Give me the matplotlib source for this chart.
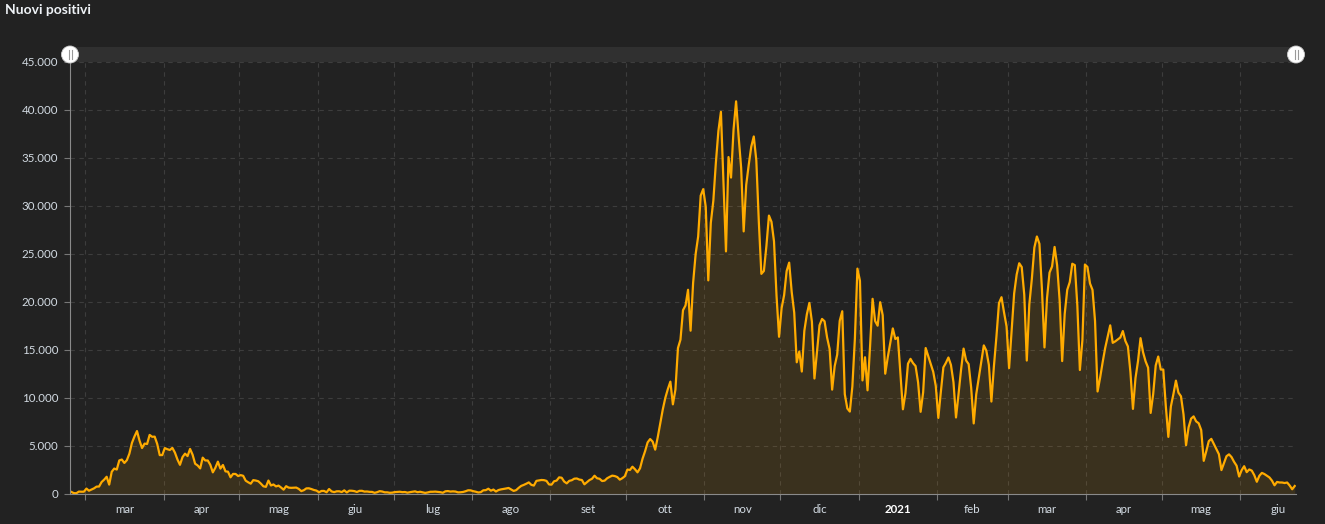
import matplotlib
matplotlib.use("Agg")
import matplotlib.pyplot as plt
import matplotlib.dates as mdates
from matplotlib.patches import Rectangle, Circle
import numpy as np
import pandas as pd

# Nuovi positivi giornalieri, dal 24 febbraio 2020 al 22 giugno 2021
start_date = "2020-02-24"
feb_2020 = [221, 93, 78, 250, 238, 240]
mar_2020 = [566, 342, 466, 587, 769, 778, 1247, 1492, 1797, 977, 2313, 2651, 2547, 3497, 3590, 3233,
            3526, 4207, 5322, 5986, 6557, 5560, 4789, 5249, 5210, 6153, 5959, 5974, 5217, 4050, 4053]
apr_2020 = [4782, 4668, 4585, 4805, 4316, 3599, 3039, 3836, 4204, 3951, 4694, 4092, 3153, 2972, 2667,
            3786, 3493, 3491, 3047, 2256, 2729, 3370, 2646, 3021, 2357, 2324, 1739, 2091, 2086, 1872]
mag_2020 = [1965, 1900, 1389, 1221, 1075, 1444, 1401, 1327, 1083, 802, 744, 1402, 888, 992, 789, 875,
            675, 451, 813, 665, 642, 652, 669, 531, 300, 397, 584, 593, 516, 416, 355]
giu_2020 = [178, 318, 321, 177, 518, 270, 197, 280, 283, 202, 379, 163, 346, 338, 301, 210, 329, 333,
            251, 262, 224, 218, 122, 190, 296, 259, 175, 174, 126, 142]
lug_2020 = [201, 223, 235, 192, 208, 138, 193, 229, 276, 188, 234, 169, 114, 162, 230, 233, 249, 219,
            190, 129, 282, 306, 252, 275, 255, 170, 181, 212, 289, 386, 379]
ago_2020 = [295, 239, 159, 190, 384, 402, 552, 347, 463, 259, 412, 481, 523, 574, 629, 479, 320, 403,
            642, 845, 947, 1071, 1210, 953, 878, 1367, 1411, 1460, 1444, 1365, 996]
set_2020 = [975, 1326, 1397, 1733, 1695, 1297, 1108, 1370, 1434, 1597, 1616, 1501, 1458, 1008, 1229,
            1452, 1585, 1907, 1638, 1587, 1350, 1392, 1640, 1786, 1912, 1869, 1766, 1494, 1648, 1851]
ott_2020 = [2548, 2499, 2844, 2578, 2257, 2677, 3678, 4458, 5372, 5724, 5456, 4619, 5901, 7332, 8804,
            10010, 10925, 11705, 9338, 10874, 15199, 16079, 19143, 19644, 21273, 17012, 21994, 24991,
            26831, 31084, 31758]
nov_2020 = [29907, 22253, 28244, 30550, 34505, 37809, 39811, 32616, 25271, 35098, 32961, 37978, 40902,
            37255, 33979, 27354, 32191, 34283, 36176, 37242, 34767, 28337, 22930, 23232, 25853, 29003,
            28352, 26323, 20648, 16377]
dic_2020 = [19350, 20709, 23225, 24099, 21052, 18887, 13720, 14842, 12756, 16999, 18727, 19903, 17938,
            12030, 14844, 17572, 18236, 17992, 16308, 15104, 10872, 13318, 14522, 18040, 19037, 10407,
            8913, 8585, 11212, 16202, 23477]
gen_2021 = [22211, 11831, 14245, 10800, 15378, 20331, 18020, 17533, 19978, 18627, 12532, 14242, 15774,
            17246, 16146, 16310, 12545, 8824, 10497, 13571, 14078, 13633, 13331, 11629, 8561, 10593,
            15204, 14372, 13574, 12715, 11252]
feb_2021 = [7925, 10630, 13189, 13659, 14218, 13442, 11641, 7970, 10404, 12956, 15146, 13908, 13532,
            11068, 7351, 10386, 12074, 13762, 15479, 14931, 13452, 9630, 13314, 16424, 19886, 20499,
            18916, 17455]
mar_2021 = [13114, 17083, 20884, 22865, 24036, 23641, 20765, 13902, 19749, 22409, 25673, 26824, 26062,
            21315, 15267, 20396, 23059, 23704, 25735, 23832, 20159, 13846, 18765, 21267, 22073, 23987,
            23839, 19611, 12916, 16017, 23904]
apr_2021 = [23649, 21932, 21261, 18025, 10680, 12100, 13708, 15200, 16400, 17567, 15746, 15900, 16100,
            16300, 16974, 15943, 15370, 12694, 8864, 12074, 13844, 16232, 14761, 13817, 13158, 8444,
            10404, 13385, 14320, 12965]
mag_2021 = [12965, 9148, 5948, 9116, 10404, 11807, 10554, 10176, 8292, 5080, 6946, 7852, 8085, 7567,
            7369, 6659, 3455, 4452, 5506, 5741, 5218, 4717, 4147, 2490, 3224, 3937, 4130, 3845, 3351,
            2949, 1820]
giu_2021 = [2483, 2897, 2275, 2557, 2436, 1963, 1273, 1896, 2199, 2079, 1901, 1723, 1390, 907, 1255,
            1199, 1197, 1143, 1197, 881, 495, 835]

month_labels = ["mar", "apr", "mag", "giu", "lug", "ago", "set", "ott", "nov", "dic",
                "2021", "feb", "mar", "apr", "mag", "giu"]
y_ticks = [0, 5000, 10000, 15000, 20000, 25000, 30000, 35000, 40000, 45000]

values = np.array(feb_2020 + mar_2020 + apr_2020 + mag_2020 + giu_2020 + lug_2020 + ago_2020
                  + set_2020 + ott_2020 + nov_2020 + dic_2020 + gen_2021 + feb_2021 + mar_2021
                  + apr_2021 + mag_2021 + giu_2021)
dates = pd.date_range(start_date, periods=len(values), freq="D") + pd.Timedelta(hours=12)
x = mdates.date2num(dates.to_pydatetime())

# colori
bg = "#222222"
line_col = "#ffab00"
text_col = "#d3dbe3"
grid_col = "#3d3d3d"

plt.rcParams["font.family"] = ["Lato", "DejaVu Sans"]

W, H = 1325, 524
fig = plt.figure(figsize=(W / 100, H / 100), dpi=100, facecolor=bg)
ax = fig.add_axes([70 / W, 30 / H, 1226 / W, 432 / H], facecolor=bg)

ax.fill_between(x, values, 0, color=line_col, alpha=0.11, linewidth=0)
ax.plot(x, values, color=line_col, linewidth=1.6, solid_joinstyle="round")

x0 = mdates.date2num(pd.Timestamp(start_date).to_pydatetime())
x1 = x0 + len(values)
ax.set_xlim(x0, x1)
ax.set_ylim(0, 45000)

# asse y
ax.set_yticks(y_ticks)
ax.set_yticklabels([f"{v:,}".replace(",", ".") for v in y_ticks])
ax.tick_params(axis="y", colors="#777777", labelcolor=text_col, labelsize=8.3, length=4.5, pad=4)

# asse x: inizio mesi (tick) e etichette a metà mese
month_starts = pd.date_range("2020-03-01", "2021-06-01", freq="MS")
ms_num = mdates.date2num(month_starts.to_pydatetime())
mid_num = ms_num + month_starts.days_in_month.values / 2.0
ax.set_xticks(ms_num)
ax.set_xticklabels([])
ax.set_xticks(mid_num, minor=True)
ax.set_xticklabels(month_labels, minor=True)
ax.tick_params(axis="x", which="major", colors="#777777", length=4.5)
ax.tick_params(axis="x", which="minor", length=0, labelcolor=text_col, labelsize=8.3, pad=7)
for lab in ax.get_xticklabels(minor=True):
    if lab.get_text() == "2021":
        lab.set_fontweight("bold")
        lab.set_color("#ffffff")

ax.grid(True, which="major", color=grid_col, linestyle=(0, (4, 4)), linewidth=0.8)
ax.set_axisbelow(True)
for side in ["top", "right"]:
    ax.spines[side].set_visible(False)
ax.spines["left"].set_color("#8a8a8a")
ax.spines["bottom"].set_color("#8a8a8a")

# titolo
fig.text(5 / W, 1 - 10 / H, "Nuovi positivi", color="#eef2f6", fontsize=10, fontweight="bold",
         va="center", ha="left")

# barra di scorrimento in alto
ov = fig.add_axes([0, 0, 1, 1], facecolor="none")
ov.set_xlim(0, W)
ov.set_ylim(H, 0)
ov.axis("off")
ov.add_patch(Rectangle((70, 47), 1227, 15, facecolor="#303030", edgecolor="none"))
for cx in (70, 1296):
    ov.add_patch(Circle((cx, 54.5), 8.5, facecolor="#ffffff", edgecolor="#cccccc", linewidth=0.6))
    ov.plot([cx - 1.5, cx - 1.5], [50, 59], color="#999999", linewidth=0.8)
    ov.plot([cx + 1.5, cx + 1.5], [50, 59], color="#999999", linewidth=0.8)

fig.savefig("out.png", dpi=100, facecolor=bg)
